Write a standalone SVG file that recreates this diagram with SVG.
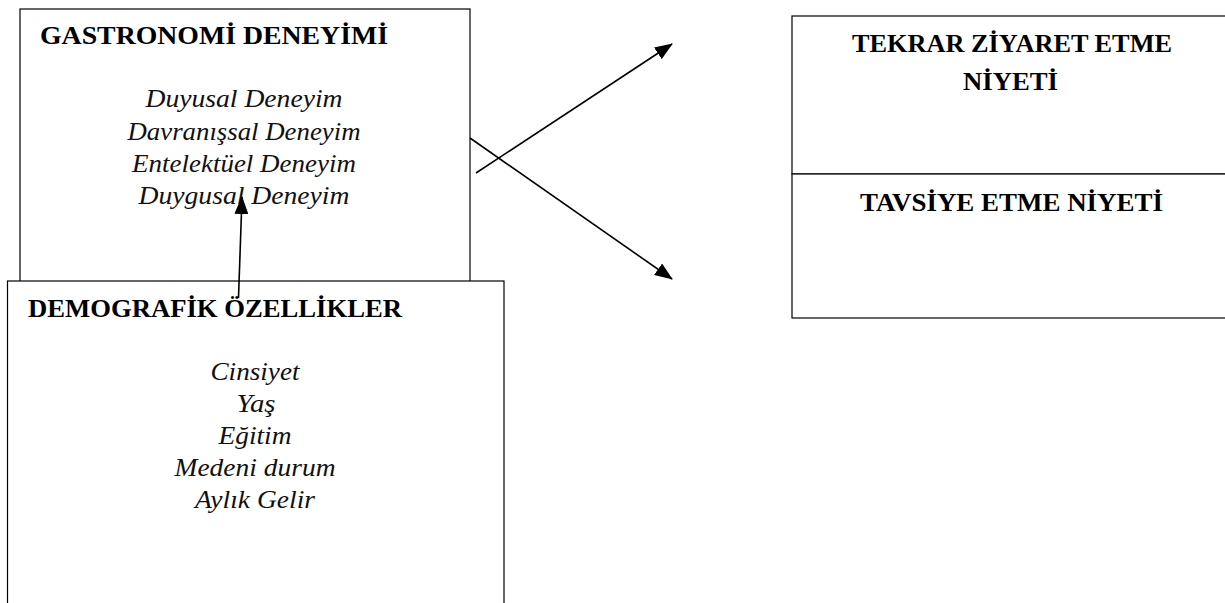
<svg xmlns="http://www.w3.org/2000/svg" width="1225" height="603" viewBox="0 0 1225 603">
<style>
.box{fill:#fff;stroke:#000;stroke-width:1.2}
.t{font-family:"Liberation Serif","DejaVu Serif",serif;font-weight:bold;font-size:25px;fill:#000}
.i{font-family:"Liberation Serif","DejaVu Serif",serif;font-style:italic;font-size:25px;fill:#111;text-anchor:middle}
.c{text-anchor:middle}
.conn{stroke:#000;stroke-width:1.6;fill:none;marker-end:url(#ah)}
</style>
<defs>
<marker id="ah" markerUnits="userSpaceOnUse" markerWidth="18" markerHeight="14" viewBox="0 0 18 14" refX="17" refY="7" orient="auto">
<path d="M0,0 L18,7 L0,14 Z" fill="#000"/>
</marker>
</defs>
<rect width="1225" height="603" fill="#fff"/>
<g id="gastronomi">
<rect class="box" x="20" y="9" width="450" height="300"/>
<text class="t" x="40" y="44" textLength="348" lengthAdjust="spacingAndGlyphs">GASTRONOMİ DENEYİMİ</text>
<text class="i" x="244" y="107" textLength="197" lengthAdjust="spacingAndGlyphs">Duyusal Deneyim</text>
<text class="i" x="244" y="140" textLength="233" lengthAdjust="spacingAndGlyphs">Davranışsal Deneyim</text>
<text class="i" x="244" y="172" textLength="224" lengthAdjust="spacingAndGlyphs">Entelektüel Deneyim</text>
<text class="i" x="244" y="204" textLength="211" lengthAdjust="spacingAndGlyphs">Duygusal Deneyim</text>
</g>
<g id="demografik">
<rect class="box" x="7.5" y="281" width="496.5" height="340"/>
<text class="t" x="28" y="317" textLength="374" lengthAdjust="spacingAndGlyphs">DEMOGRAFİK ÖZELLİKLER</text>
<text class="i" x="255" y="380" textLength="89" lengthAdjust="spacingAndGlyphs">Cinsiyet</text>
<text class="i" x="256" y="412" textLength="39" lengthAdjust="spacingAndGlyphs">Yaş</text>
<text class="i" x="255" y="444" textLength="73" lengthAdjust="spacingAndGlyphs">Eğitim</text>
<text class="i" x="255" y="476" textLength="161" lengthAdjust="spacingAndGlyphs">Medeni durum</text>
<text class="i" x="255" y="508" textLength="120" lengthAdjust="spacingAndGlyphs">Aylık Gelir</text>
</g>
<g id="tekrar">
<rect class="box" x="792" y="16" width="450" height="158"/>
<text class="t c" x="1012" y="52" textLength="320" lengthAdjust="spacingAndGlyphs">TEKRAR ZİYARET ETME</text>
<text class="t c" x="1010.5" y="90" textLength="95" lengthAdjust="spacingAndGlyphs">NİYETİ</text>
</g>
<g id="tavsiye">
<rect class="box" x="792" y="174" width="450" height="144"/>
<text class="t c" x="1011.5" y="211" textLength="303" lengthAdjust="spacingAndGlyphs">TAVSİYE ETME NİYETİ</text>
</g>
<g id="connectors">
<line class="conn" x1="476" y1="173" x2="672" y2="44"/>
<line class="conn" x1="470" y1="138" x2="672" y2="279"/>
<line class="conn" x1="238.5" y1="298" x2="242" y2="197"/>
</g>
</svg>
